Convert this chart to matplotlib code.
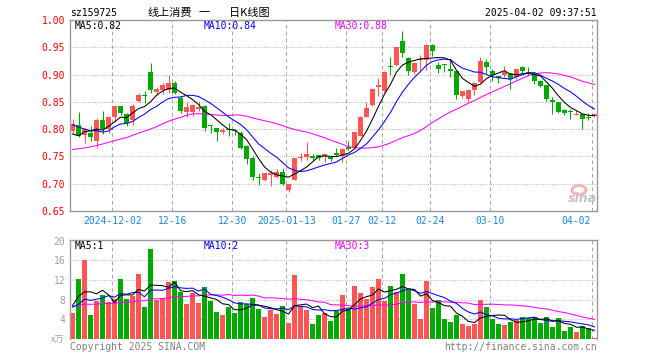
import numpy as np
import pandas as pd
import matplotlib
matplotlib.use("Agg")
import matplotlib.pyplot as plt
from matplotlib.patches import Ellipse
import matplotlib.transforms as mtransforms

# ---------------- data ----------------
opens = [0.796, 0.807, 0.789, 0.793, 0.779, 0.817, 0.800, 0.822, 0.843, 0.828,
         0.816, 0.852, 0.863, 0.905, 0.868, 0.872, 0.872, 0.885, 0.857, 0.832,
         0.832, 0.837, 0.843, 0.807, 0.802, 0.794, 0.800, 0.799, 0.793, 0.769,
         0.748, 0.711, 0.707, 0.716, 0.713, 0.722, 0.689, 0.707, 0.747, 0.749,
         0.750, 0.752, 0.751, 0.749, 0.756, 0.750, 0.767, 0.766, 0.788, 0.823,
         0.845, 0.877, 0.870, 0.916, 0.917, 0.961, 0.930, 0.904, 0.926, 0.927,
         0.955, 0.917, 0.919, 0.910, 0.906, 0.861, 0.855, 0.872, 0.886, 0.923,
         0.907, 0.898, 0.900, 0.902, 0.895, 0.913, 0.905, 0.902, 0.888, 0.881,
         0.854, 0.849, 0.835, 0.833, 0.826, 0.828, 0.823, 0.824]
highs = [0.819, 0.832, 0.803, 0.805, 0.820, 0.834, 0.823, 0.843, 0.843, 0.830,
         0.846, 0.866, 0.870, 0.922, 0.878, 0.884, 0.899, 0.888, 0.861, 0.849,
         0.846, 0.851, 0.844, 0.807, 0.802, 0.803, 0.811, 0.800, 0.797, 0.771,
         0.750, 0.719, 0.719, 0.725, 0.727, 0.729, 0.700, 0.748, 0.756, 0.776,
         0.755, 0.753, 0.755, 0.749, 0.765, 0.765, 0.779, 0.795, 0.824, 0.849,
         0.875, 0.894, 0.906, 0.932, 0.951, 0.979, 0.932, 0.923, 0.935, 0.956,
         0.956, 0.923, 0.920, 0.928, 0.906, 0.870, 0.874, 0.887, 0.932, 0.928,
         0.910, 0.898, 0.916, 0.902, 0.911, 0.916, 0.914, 0.905, 0.890, 0.881,
         0.858, 0.849, 0.836, 0.837, 0.835, 0.828, 0.829, 0.828]
lows = [0.792, 0.785, 0.774, 0.779, 0.765, 0.791, 0.793, 0.814, 0.826, 0.805,
        0.808, 0.850, 0.848, 0.866, 0.863, 0.865, 0.866, 0.864, 0.829, 0.822,
        0.824, 0.834, 0.796, 0.793, 0.779, 0.791, 0.788, 0.790, 0.764, 0.736,
        0.707, 0.697, 0.705, 0.695, 0.711, 0.697, 0.685, 0.706, 0.741, 0.744,
        0.744, 0.744, 0.739, 0.741, 0.750, 0.740, 0.761, 0.765, 0.787, 0.822,
        0.843, 0.860, 0.868, 0.899, 0.915, 0.933, 0.899, 0.901, 0.909, 0.909,
        0.934, 0.903, 0.904, 0.895, 0.856, 0.857, 0.850, 0.862, 0.884, 0.902,
        0.889, 0.884, 0.896, 0.874, 0.891, 0.902, 0.900, 0.883, 0.878, 0.852,
        0.828, 0.829, 0.826, 0.819, 0.826, 0.800, 0.816, 0.823]
closes = [0.809, 0.788, 0.800, 0.786, 0.817, 0.800, 0.822, 0.842, 0.829, 0.812,
          0.843, 0.862, 0.861, 0.872, 0.873, 0.881, 0.885, 0.866, 0.834, 0.841,
          0.845, 0.840, 0.803, 0.805, 0.794, 0.798, 0.798, 0.797, 0.766, 0.746,
          0.713, 0.710, 0.719, 0.719, 0.722, 0.700, 0.700, 0.748, 0.749, 0.755,
          0.748, 0.748, 0.754, 0.746, 0.752, 0.764, 0.763, 0.794, 0.823, 0.838,
          0.874, 0.880, 0.905, 0.914, 0.950, 0.939, 0.906, 0.921, 0.928, 0.954,
          0.943, 0.910, 0.918, 0.906, 0.862, 0.869, 0.872, 0.884, 0.925, 0.913,
          0.899, 0.894, 0.905, 0.891, 0.910, 0.907, 0.902, 0.889, 0.879, 0.855,
          0.849, 0.832, 0.830, 0.832, 0.827, 0.818, 0.820, 0.827]
volumes = [5.26, 12.2, 16.0, 4.85, 7.7, 8.9, 7.5, 8.2, 12.2, 8.2,
           8.7, 13.2, 6.5, 18.3, 8.0, 8.3, 11.6, 11.8, 9.5, 7.1,
           9.3, 7.3, 10.5, 7.7, 5.5, 4.85, 6.5, 5.3, 7.5, 7.1,
           8.3, 6.1, 4.4, 6.0, 5.1, 6.7, 3.2, 13.0, 6.7, 6.0,
           3.0, 4.85, 5.3, 3.6, 5.7, 8.9, 6.1, 10.75, 9.3, 8.1,
           10.5, 12.2, 7.7, 10.75, 9.5, 13.2, 9.9, 7.1, 4.0, 11.8,
           6.3, 7.9, 4.0, 3.4, 4.85, 3.0, 2.6, 3.0, 7.9, 6.5,
           4.0, 3.0, 2.8, 3.4, 3.8, 4.4, 4.2, 4.4, 3.2, 4.4,
           2.4, 4.2, 1.6, 2.4, 1.4, 2.6, 2.2, 0.2]

# 29 sessions before the window (estimated from where the MA lines start)
prior_close = [0.76, 0.75, 0.73, 0.74, 0.72, 0.73, 0.75, 0.74, 0.73, 0.72,
               0.74, 0.75, 0.76, 0.74, 0.73, 0.74, 0.75, 0.74, 0.73, 0.76,
               0.830, 0.835, 0.820, 0.815, 0.825, 0.803, 0.765, 0.776, 0.802]
prior_volume = [6.0, 7.2, 5.8, 6.6, 6.0, 6.8, 7.5, 6.2, 6.9, 7.1,
                6.4, 6.6, 7.0, 6.8, 6.5, 7.2, 6.9, 6.3, 6.7, 6.5,
                6.5, 5.8, 7.0, 5.5, 6.2, 2.7, 11.5, 4.8, 9.7]

tick_pos = [7, 17, 27, 36, 46, 52, 60, 70, 87]
tick_labels = ["2024-12-02", "12-16", "12-30", "2025-01-13", "01-27",
               "02-12", "02-24", "03-10", "04-02"]
price_ticks = [0.65, 0.70, 0.75, 0.80, 0.85, 0.90, 0.95, 1.00]
vol_ticks = [4, 8, 12, 16, 20]

title_code = "sz159725"
title_name = "线上消费"
title_sep = "一"
title_kind = "日K线图"
timestamp = "2025-04-02 09:37:51"

# ---------------- styling ----------------
RED = "#ff5555"
GREEN = "#00aa00"
BLUE = "#0000ff"
MAG = "#ff00ff"
GRID = "#a8a8a8"
FRAME = "#999999"
XLBL = "#1a88d6"
MONO = "DejaVu Sans Mono"
CJK = ["Noto Sans CJK SC", "DejaVu Sans"]
FS = 7.0
LW = 0.75

W, H = 660, 360
fig = plt.figure(figsize=(W / 100, H / 100), dpi=100)

def fx(px):
    return px / W

def fy(py):
    return 1 - py / H

n = len(closes)
x = np.arange(n)
o = np.array(opens); c = np.array(closes)
hi = np.array(highs); lo = np.array(lows)
v = np.array(volumes)

full_c = pd.Series(prior_close + closes)
full_v = pd.Series(prior_volume + volumes)
k = len(prior_close)
ma5 = full_c.rolling(5).mean().values[k:]
ma10 = full_c.rolling(10).mean().values[k:]
ma30 = full_c.rolling(30).mean().values[k:]
vma5 = full_v.rolling(5).mean().values[k:]
vma10 = full_v.rolling(10).mean().values[k:]
vma30 = full_v.rolling(30).mean().values[k:]

colors = np.where(c >= o, RED, GREEN)
xlim = (-0.42, 87.42)

ax1 = fig.add_axes([fx(70), fy(211), fx(597) - fx(70), fy(20) - fy(211)])
ax2 = fig.add_axes([fx(70), fy(339), fx(597) - fx(70), fy(240) - fy(339)])

for ax in (ax1, ax2):
    ax.set_xlim(*xlim)
    for s in ax.spines.values():
        s.set_color(FRAME)
        s.set_linewidth(1.0)
    ax.set_xticks([])
    for t in tick_pos:
        ax.axvline(t - 0.37, color=GRID, lw=0.75, dashes=(3.6, 2.9), zorder=0)
    ax.tick_params(axis="y", length=0, pad=3.5)

ax2.spines["bottom"].set_visible(False)

# price panel
ax1.set_ylim(0.65, 1.00)
ax1.set_yticks(price_ticks)
ax1.set_yticklabels([f"{p:.2f}" for p in price_ticks], fontfamily=MONO,
                    fontsize=FS, color="#ff0000")
for p in price_ticks[1:-1]:
    ax1.axhline(p, color=GRID, lw=0.75, dashes=(0.72, 1.44), zorder=0)

ax1.vlines(x, lo, hi, colors=colors, lw=LW, zorder=2)
body_bot = np.minimum(o, c)
body_h = np.maximum(np.abs(c - o), 0.0017)
ax1.bar(x, body_h, bottom=body_bot, width=0.82, color=colors, linewidth=0, zorder=2)

ax1.plot(x, ma30, color=MAG, lw=LW, zorder=3)
ax1.plot(x, ma10, color=BLUE, lw=LW, zorder=3)
ax1.plot(x, ma5, color="black", lw=LW, zorder=3)

trans = mtransforms.blended_transform_factory(ax1.transData, ax1.transAxes)
for t, lab in zip(tick_pos, tick_labels):
    if t == tick_pos[-1]:
        ax1.text(t - 0.6, -0.027, lab, transform=trans, ha="right", va="top",
                 fontfamily=MONO, fontsize=FS, color=XLBL)
    else:
        ax1.text(t - 0.37, -0.027, lab, transform=trans, ha="center", va="top",
                 fontfamily=MONO, fontsize=FS, color=XLBL)

# volume panel
ax2.set_ylim(0, 20.16)
ax2.set_yticks(vol_ticks)
ax2.set_yticklabels([str(t) for t in vol_ticks], fontfamily=MONO,
                    fontsize=FS, color="#a0a0a0")
for t in vol_ticks[:-1]:
    ax2.axhline(t, color=GRID, lw=0.75, dashes=(0.72, 1.44), zorder=0)
ax2.bar(x, v, width=0.82, color=colors, linewidth=0, zorder=2)
ax2.plot(x, vma30, color=MAG, lw=LW, zorder=3)
ax2.plot(x, vma10, color=BLUE, lw=LW, zorder=3)
ax2.plot(x, vma5, color="black", lw=LW, zorder=3)

# ---------------- texts ----------------
fig.text(fx(70), fy(13), title_code, fontfamily=MONO, fontsize=FS,
         ha="left", va="center", color="black")
fig.text(fx(148), fy(13), title_name, family=CJK, fontsize=8,
         ha="left", va="center", color="black")
fig.text(fx(199), fy(13), title_sep, family=CJK, fontsize=8,
         ha="left", va="center", color="black")
fig.text(fx(229), fy(13), title_kind, family=CJK, fontsize=8,
         ha="left", va="center", color="black")
fig.text(fx(597), fy(13), timestamp, fontfamily=MONO, fontsize=FS,
         ha="right", va="center", color="black")

fig.text(fx(75), fy(26), f"MA5:{ma5[-1]:.2f}", fontfamily=MONO, fontsize=FS,
         ha="left", va="center", color="black")
fig.text(fx(204), fy(26), f"MA10:{ma10[-1]:.2f}", fontfamily=MONO, fontsize=FS,
         ha="left", va="center", color=BLUE)
fig.text(fx(335), fy(26), f"MA30:{ma30[-1]:.2f}", fontfamily=MONO, fontsize=FS,
         ha="left", va="center", color=MAG)

fig.text(fx(75), fy(246), "MA5:1", fontfamily=MONO, fontsize=FS,
         ha="left", va="center", color="black")
fig.text(fx(204), fy(246), "MA10:2", fontfamily=MONO, fontsize=FS,
         ha="left", va="center", color=BLUE)
fig.text(fx(335), fy(246), "MA30:3", fontfamily=MONO, fontsize=FS,
         ha="left", va="center", color=MAG)

fig.text(fx(64), fy(340), "x万", family=CJK, fontsize=6.5,
         ha="right", va="center", color="#a0a0a0")
fig.text(fx(70), fy(347), "Copyright 2025 SINA.COM", fontfamily=MONO,
         fontsize=FS, ha="left", va="center", color="#808080")
fig.text(fx(597), fy(347), "http://finance.sina.com.cn", fontfamily=MONO,
         fontsize=FS, ha="right", va="center", color="#808080")

# sina watermark
fig.text(fx(582), fy(199), "sina", fontfamily="DejaVu Sans", fontsize=9,
         fontweight="bold", fontstyle="italic", ha="center", va="center",
         color="#c4c4c4")
eye = Ellipse((fx(579), fy(190)), width=14 / W, height=9 / H,
              transform=fig.transFigure, facecolor="none",
              edgecolor="#f4b4b4", lw=2)
fig.add_artist(eye)

fig.savefig("out.png", dpi=100)
